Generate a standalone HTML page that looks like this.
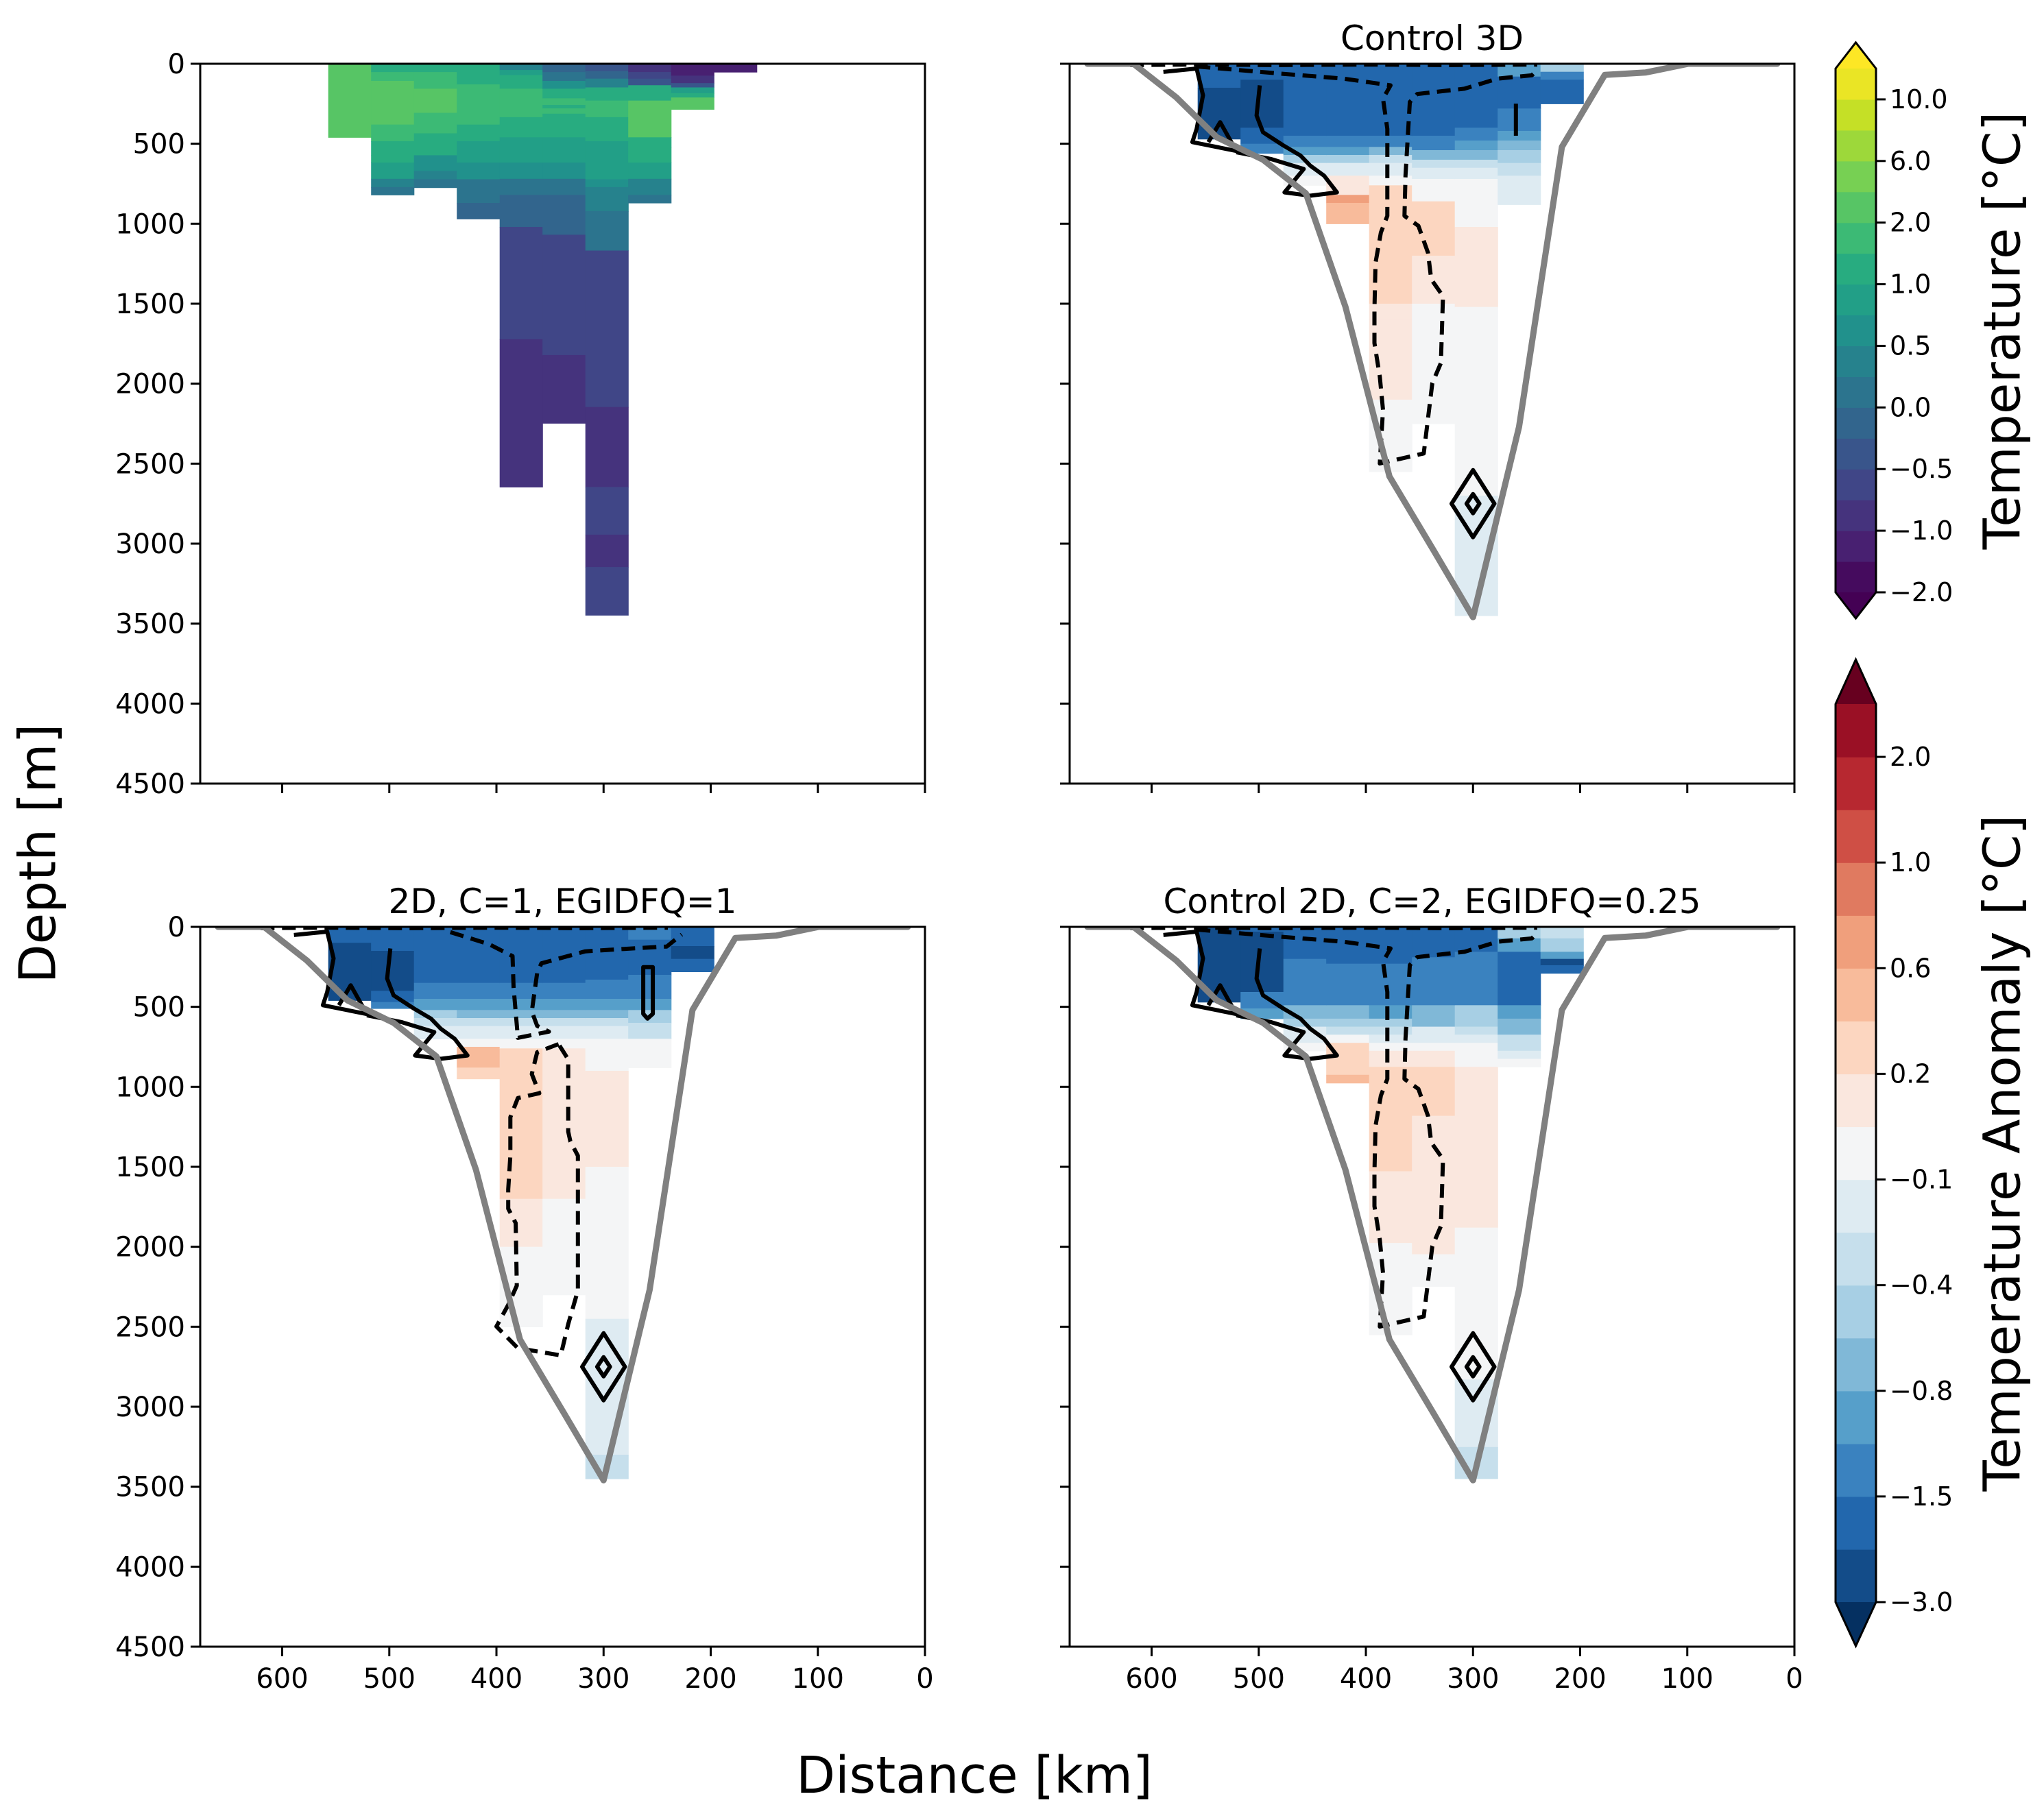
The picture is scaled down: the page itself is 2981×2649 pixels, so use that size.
<!DOCTYPE html>
<html><head><meta charset="utf-8"><style>
html,body{margin:0;padding:0;background:#fff;}
svg{display:block;font-family:"DejaVu Sans","Liberation Sans",sans-serif;}
</style></head><body>
<svg id="fig" width="2981" height="2649" viewBox="0 0 2981 2649" xmlns="http://www.w3.org/2000/svg"></svg>
<script>
// ---------- data ----------
const xLimMax = 676.5, depthMax = 4500;
const colEdges = [557,517,477,437,397,357,317,277,237,197,157];
const tempLevels = [-2,-1.5,-1,-0.75,-0.5,-0.25,0,0.25,0.5,0.75,1,1.5,2,4,6,8,10,12];
const tempTickLabels = ["\u22122.0","\u22121.0","\u22120.5","0.0","0.5","1.0","2.0","6.0","10.0"];
const anomLevels = [-3,-2,-1.5,-1.2,-0.8,-0.6,-0.4,-0.25,-0.1,0.1,0.2,0.4,0.6,0.8,1.0,1.5,2.0,3.0];
const anomTickLabels = ["\u22123.0","\u22121.5","\u22120.8","\u22120.4","\u22120.1","0.2","0.6","1.0","2.0"];
const anomColors = ['#134c89','#2267ad','#3a82bf','#569fca','#80b8d7','#a7cfe4','#c6dfec','#deebf2','#f4f5f6','#fae7de','#fcd6c0','#f8bb9b','#f09f7c','#e07a60','#cf4f45','#b72830','#9a1025'];
const depthTicks = [0,500,1000,1500,2000,2500,3000,3500,4000,4500];
const distTicks = [600,500,400,300,200,100,0];

// Top-left temperature: per column boundaries (m) and values (°C)
const tempBounds = [
 [0,460],
 [0,52,107,380,484,572,618,719,771,820],
 [0,52,156,307,435,523,572,670,722,774],
 [0,39,88,129,380,484,572,618,722,870,970],
 [0,39,71,121,156,334,460,618,719,820,1020,1722,2646],
 [0,52,107,156,216,257,279,312,460,618,719,820,1069,1821,2247],
 [0,47,93,148,230,334,484,572,722,771,921,1168,2146,2646,2944,3146,3447],
 [0,52,93,134,184,230,460,522,618,719,820,870],
 [0,74,121,148,184,211,285],
 [0,52]
];
const tempVals = [
 [3],
 [1.3,1.7,3,1.7,1.2,1.0,0.8,0.4,0.1],
 [1.3,1.7,3,1.8,1.3,1.0,0.6,0.4,0.1],
 [1.1,1.2,1.3,1.8,1.3,0.9,0.8,0.5,0.2,-0.2],
 [0.4,0.8,1.1,1.3,1.8,1.3,0.9,0.5,0.2,-0.1,-0.6,-0.9],
 [-0.1,0.2,0.6,1.1,1.5,1.3,1.6,1.4,0.9,0.5,0.2,-0.1,-0.6,-0.9],
 [-0.4,-0.1,0.3,1.1,1.6,1.3,0.9,0.8,0.6,0.3,0.0,-0.6,-0.9,-0.6,-0.9,-0.6],
 [-0.9,-0.6,-0.4,1.0,1.2,2.0,1.3,1.1,0.8,0.4,0.1],
 [-1.2,-0.9,-0.3,0.9,1.2,2.0],
 [-1.2]
];

// Top-right anomaly (Control 3D)
const trBounds = [
 [0,150,470],[0,100,400,500,560],[0,450,520,570,620,700,760],
 [0,450,520,570,620,700,820,870,1000],[0,450,520,570,620,700,760,1500,1600,2100,2550],
 [0,450,540,600,650,720,860,1200,1500,2100,2250],[0,400,480,540,600,650,720,880,1020,1520,2700,3250,3450],
 [0,80,280,420,480,540,620,700,880],[0,50,100,150,250]
];
const trVals = [
 [-1.7,-2.2],[-1.7,-2.2,-1.7,-1.3],[-1.7,-1.3,-0.9,-0.5,-0.2,0],
 [-1.7,-1.3,-0.9,-0.5,-0.2,0.15,0.6,0.5],[-1.7,-1.3,-0.7,-0.4,-0.15,0,0.3,0.15,0.15,0],
 [-1.7,-1.3,-0.7,-0.35,-0.15,0,0.3,0.15,0,0],[-1.7,-1.3,-1.0,-0.7,-0.35,-0.15,0,0,0.15,0,-0.15,-0.15],
 [-1.0,-1.7,-1.3,-1.0,-0.7,-0.5,-0.35,-0.15],[-0.5,-1.3,-1.7,-1.7]
];
// Bottom-left anomaly (2D, C=1)
const blBounds = [
 [0,100,460],[0,150,400,470,510],[0,350,450,520,570,620,700],
 [0,350,450,520,570,620,700,750,880,950],[0,350,450,520,570,620,700,760,1700,2000,2500],
 [0,350,450,520,570,620,700,760,1700,2300],[0,330,450,520,570,620,700,900,1500,2450,3300,3450],
 [0,80,300,450,520,600,700,880],[0,120,200,280]
];
const blVals = [
 [-1.7,-2.2],[-1.7,-2.2,-1.7,-1.3],[-1.7,-1.3,-0.9,-0.6,-0.3,-0.15],
 [-1.7,-1.3,-1.0,-0.7,-0.4,-0.15,0,0.5,0.3],[-1.7,-1.3,-1.0,-0.7,-0.4,-0.15,0,0.3,0.15,0],
 [-1.7,-1.3,-1.0,-0.7,-0.4,-0.15,0,0.15,0],[-1.7,-1.3,-1.0,-0.7,-0.4,-0.15,0,0.15,0,-0.2,-0.35],
 [-1.3,-1.7,-1.3,-0.9,-0.6,-0.3,0],[-1.7,-2.2,-1.7]
];
// Bottom-right anomaly (Control 2D, C=2)
const brBounds = [
 [0,470],[0,30,407,510,574],[0,200,490,574,624,725,775],
 [0,230,490,574,624,674,725,875,925,976],[0,230,490,574,624,674,725,775,875,1528,1976,2550],
 [0,190,490,624,725,775,875,1181,2047,2248],[0,156,490,624,674,725,875,1880,2830,3252,3449],
 [0,72,156,490,574,674,775,825,875],[0,72,156,200,240,290]
];
const brVals = [
 [-2.2],[-1.7,-2.2,-1.3,-0.9],[-1.7,-1.3,-0.7,-0.5,-0.15,0.0],
 [-1.7,-1.3,-0.7,-0.5,-0.3,0,0.3,0.3,0.5],[-1.7,-1.3,-0.9,-0.6,-0.4,-0.15,0,0.15,0.3,0.15,0],
 [-1.7,-1.3,-0.7,-0.2,0,0.15,0.3,0.15,0],[-1.7,-1.3,-0.6,-0.3,-0.15,0,0.15,0,-0.15,-0.3],
 [-0.5,-1.0,-1.7,-1.0,-0.7,-0.35,-0.15,0],[-0.35,-0.5,-1.0,-2.2,-1.7]
];

// Bathymetry (km, m)
const bathyKm = [660,617,577,539,496,456,419,378,337,300,257,217,177,139,99,16];
const bathyDepth = [0,0,210,460,600,810,1520,2580,3040,3460,2270,520,70,55,0,0];

// Contours (km, m)
const dashedKm = [558,477,421,377,384,380,380,386,391,392,392,387,384,387,346,338,330,328,339,342,351,364,363,359,352,308,277,245,239];
const dashedDepth = [17,63,93,135,218,407,951,1055,1244,1537,1746,1955,2164,2499,2436,1997,1871,1453,1348,1181,1013,951,700,239,189,156,93,72,30];
const blDash1Km = [443,407,385,384,380,351,362,367,362,358,317,281,241,227];
const blDash1Depth = [33,108,183,378,694,655,619,529,288,228,153,138,123,48];
const blDash2Km = [342,362,367,360,380,387,387,389,389,382,381,389,400,380,340,333,324,324,331,333,333,342];
const blDash2Depth = [733,784,920,1040,1070,1190,1431,1641,1762,1852,2243,2363,2498,2634,2679,2483,2273,1431,1341,1280,829,733];
const solid1Km = [589,558,552,558,562,521,536,547];
const solid1Depth = [51,30,197,407,490,545,365,490];
const solid2Km = [499,502,496,477,461,452,439,427,452,476,458,489,521];
const solid2Depth = [135,323,428,511,574,637,700,804,825,804,658,595,553];
const surfKm = [620,560,480,400,320,240];
const surfDepth = [8,5,8,5,8,5];
const loopKm = [263,254,254,259,263,263];
const loopDepth = [252,252,544,574,544,252];
const diamondCenter = [300,2750];

// ---------- drawing ----------
const svg = document.getElementById('fig');
const NS = 'http://www.w3.org/2000/svg';
function mk(tag, attrs, parent){
  const e = document.createElementNS(NS, tag);
  for (const k in attrs) e.setAttribute(k, attrs[k]);
  (parent||svg).appendChild(e);
  return e;
}
const W = 1057, H = 1050;
const panels = [
  {id:'temperature-panel', x0:292, y0:93, title:null, ylab:true, xlab:false},
  {id:'control-3d-panel', x0:1560, y0:93, title:'Control 3D', ylab:false, xlab:false},
  {id:'2d-c1-panel', x0:292, y0:1352, title:'2D, C=1, EGIDFQ=1', ylab:true, xlab:true},
  {id:'control-2d-c2-panel', x0:1560, y0:1352, title:'Control 2D, C=2, EGIDFQ=0.25', ylab:false, xlab:true}
];
function sx(p, km){ return p.x0 + (xLimMax - km)/xLimMax*W; }
function sy(p, d){ return p.y0 + d/depthMax*H; }

const vstops = [[0,'#440154'],[0.1,'#482475'],[0.2,'#414487'],[0.3,'#355f8d'],[0.4,'#2a788e'],[0.5,'#21918c'],[0.6,'#22a884'],[0.7,'#44bf70'],[0.8,'#7ad151'],[0.9,'#bddf26'],[1,'#fde725']];
function hex2rgb(h){return [parseInt(h.substr(1,2),16),parseInt(h.substr(3,2),16),parseInt(h.substr(5,2),16)];}
function viridis(t){
  t=Math.max(0,Math.min(1,t));
  for(let i=0;i<vstops.length-1;i++){
    if(t<=vstops[i+1][0]){
      const f=(t-vstops[i][0])/(vstops[i+1][0]-vstops[i][0]);
      const a=hex2rgb(vstops[i][1]), b=hex2rgb(vstops[i+1][1]);
      return 'rgb('+a.map((v,j)=>Math.round(v+(b[j]-v)*f)).join(',')+')';
    }
  }
  return vstops[vstops.length-1][1];
}
function bandIdx(levels, v){
  for(let i=0;i<levels.length-1;i++){ if(v<levels[i+1]) return Math.max(i,0); }
  return levels.length-2;
}
function tempColor(v){ return viridis((bandIdx(tempLevels,v)+0.5)/17); }
function anomColor(v){ return anomColors[bandIdx(anomLevels,v)]; }

function drawCells(p, g, bounds, vals, colorFn, nm){
  for(let c=0;c<bounds.length;c++){
    const xl = sx(p, colEdges[c]), xr = sx(p, colEdges[c+1]);
    for(let k=0;k<vals[c].length;k++){
      const y1 = sy(p, bounds[c][k]), y2 = sy(p, bounds[c][k+1]);
      const r = mk('rect',{x:xl.toFixed(1),y:y1.toFixed(1),width:(xr-xl+0.6).toFixed(1),height:(y2-y1+0.6).toFixed(1),fill:colorFn(vals[c][k])}, g);
      
      
    }
  }
}
function drawLine(p, g, kms, ds, style, nm, close){
  const pts = kms.map((k,i)=>sx(p,k).toFixed(1)+','+sy(p,ds[i]).toFixed(1)).join(' ');
  const e = mk(close?'polygon':'polyline', Object.assign({points:pts, fill:'none', 'stroke-linejoin':'round'}, style), g);
  
  
}
function drawDiamond(p, g, hw, hh, nm){
  const cx=diamondCenter[0], cy=diamondCenter[1];
  drawLine(p, g, [cx, cx-hw, cx, cx+hw], [cy-hh, cy, cy+hh, cy], {stroke:'#000','stroke-width':6}, nm, true);
}

const solidStyle = {stroke:'#000','stroke-width':6};
const dashStyle = {stroke:'#000','stroke-width':6,'stroke-dasharray':'20,11'};
const greyStyle = {stroke:'#808080','stroke-width':9,'stroke-linecap':'round'};

panels.forEach((p, idx)=>{
  const g = mk('g',{});
  
  
  const cp = mk('clipPath',{id:'clip'+idx}, g);
  mk('rect',{x:p.x0,y:p.y0,width:W,height:H}, cp);
  const inner = mk('g',{'clip-path':'url(#clip'+idx+')'}, g);
  if(idx===0){
    drawCells(p, inner, tempBounds, tempVals, tempColor, 'temperature-cell');
  } else {
    const b = idx===1?trBounds:(idx===2?blBounds:brBounds);
    const v = idx===1?trVals:(idx===2?blVals:brVals);
    drawCells(p, inner, b, v, anomColor, 'anomaly-cell');
    drawLine(p, inner, surfKm, surfDepth, dashStyle, 'surface-dashed-contour');
    drawLine(p, inner, solid1Km, solid1Depth, solidStyle, 'solid-contour-upper');
    drawLine(p, inner, solid2Km, solid2Depth, solidStyle, 'solid-contour-lower');
    if(idx===2){
      drawLine(p, inner, blDash1Km, blDash1Depth, dashStyle, 'dashed-contour-upper');
      drawLine(p, inner, blDash2Km, blDash2Depth, dashStyle, 'dashed-contour-plume', true);
      drawLine(p, inner, loopKm, loopDepth, solidStyle, 'solid-contour-loop', true);
    } else {
      drawLine(p, inner, dashedKm, dashedDepth, dashStyle, 'dashed-contour-plume');
      if(idx===1) drawLine(p, inner, [260,260], [250,450], solidStyle, 'solid-contour-tick');
    }
    drawDiamond(p, inner, 20, 210, 'diamond-contour-outer');
    drawDiamond(p, inner, 6, 60, 'diamond-contour-inner');
    drawLine(p, inner, bathyKm, bathyDepth, greyStyle, 'bathymetry-line');
  }
  const fr = mk('rect',{x:p.x0,y:p.y0,width:W,height:H,fill:'none',stroke:'#000','stroke-width':3}, g);
  
  
  depthTicks.forEach((d)=>{
    const y = sy(p,d);
    const t = mk('line',{x1:p.x0-14,x2:p.x0,y1:y,y2:y,stroke:'#000','stroke-width':3}, g);
    
    
    if(p.ylab){
      const tx = mk('text',{x:p.x0-22,y:y+14,'text-anchor':'end','font-size':40,fill:'#000'}, g);
      tx.textContent = String(d);
      
      
    }
  });
  distTicks.forEach((k)=>{
    const x = sx(p,k);
    const t = mk('line',{x1:x,x2:x,y1:p.y0+H,y2:p.y0+H+14,stroke:'#000','stroke-width':3}, g);
    
    
    if(p.xlab){
      const tx = mk('text',{x:x,y:p.y0+H+60,'text-anchor':'middle','font-size':40,fill:'#000'}, g);
      tx.textContent = String(k);
      
      
    }
  });
  if(p.title){
    const tt = mk('text',{x:p.x0+W/2,y:p.y0-20,'text-anchor':'middle','font-size':50,fill:'#000'}, g);
    tt.textContent = p.title;
    
    
  }
});

// colorbars
function drawColorbar(top, bottom, tipTop, tipBot, colors, extLow, extHigh, labels, title, nm){
  const g = mk('g',{});
  
  
  const x1 = 2677, x2 = 2736, xm = (x1+x2)/2;
  const n = colors.length, bh = (bottom-top)/n;
  colors.forEach((c,i)=>{
    const r = mk('rect',{x:x1,y:(bottom-(i+1)*bh).toFixed(1),width:x2-x1,height:(bh+0.6).toFixed(1),fill:c}, g);
    
    
  });
  const up = mk('polygon',{points:`${x1},${top} ${xm},${tipTop} ${x2},${top}`,fill:extHigh}, g);
  
  
  const dn = mk('polygon',{points:`${x1},${bottom} ${xm},${tipBot} ${x2},${bottom}`,fill:extLow}, g);
  
  
  const ol = mk('polygon',{points:`${x1},${top} ${xm},${tipTop} ${x2},${top} ${x2},${bottom} ${xm},${tipBot} ${x1},${bottom}`,fill:'none',stroke:'#000','stroke-width':3}, g);
  
  
  labels.forEach((lab,i)=>{
    const y = bottom - i*2*bh;
    const t = mk('line',{x1:x2,x2:x2+14,y1:y,y2:y,stroke:'#000','stroke-width':3}, g);
    
    
    const tx = mk('text',{x:x2+20,y:y+13,'font-size':38,fill:'#000'}, g);
    tx.textContent = lab;
    
    
  });
  const cy = (top+bottom)/2;
  const lt = mk('text',{x:2925,y:cy,'text-anchor':'middle','font-size':74,fill:'#000',transform:`rotate(-90 2925 ${cy})`,'dominant-baseline':'middle'}, g);
  lt.textContent = title;
  
  
}
const tempColors = [];
for(let i=0;i<17;i++) tempColors.push(viridis((i+0.5)/17));
drawColorbar(100, 864, 62, 902, tempColors, '#440154', '#fde725', tempTickLabels, 'Temperature [\u00b0C]', 'temperature-colorbar');
drawColorbar(1027, 2337, 962, 2401, anomColors, '#053061', '#67001f', anomTickLabels, 'Temperature Anomaly [\u00b0C]', 'anomaly-colorbar');

// axis titles
const yt = mk('text',{x:60,y:1245,'text-anchor':'middle','font-size':74,fill:'#000',transform:'rotate(-90 60 1245)','dominant-baseline':'middle'});
yt.textContent = 'Depth [m]';


const xt = mk('text',{x:1421,y:2615,'text-anchor':'middle','font-size':74,fill:'#000'});
xt.textContent = 'Distance [km]';


</script>
</body></html>
